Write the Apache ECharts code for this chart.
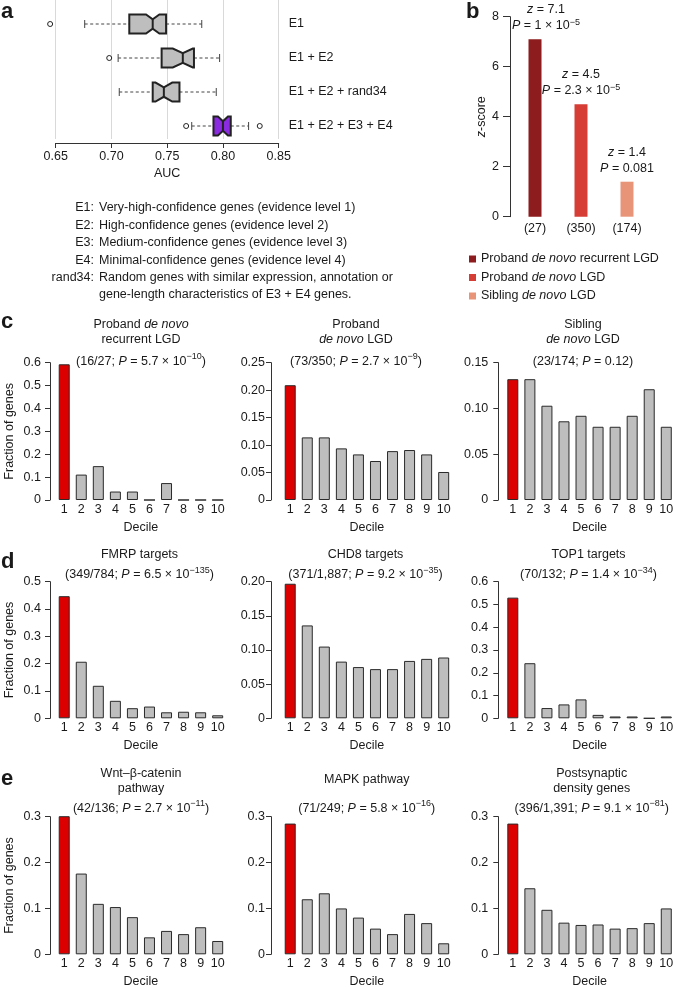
<!DOCTYPE html>
<html><head><meta charset="utf-8">
<script src="https://cdn.jsdelivr.net/npm/echarts@6/dist/echarts.min.js"></script>
<style>html,body{margin:0;padding:0;background:#fff}#c{width:673px;height:987px}</style>
</head><body><div id="c"></div>
<script>
// ================= DATA =================
// Panel a: notched box plots of AUC
const aCats = ['E1', 'E1 + E2', 'E1 + E2 + rand34', 'E1 + E2 + E3 + E4'];
const aLow = [0.676, 0.706, 0.707, 0.772];
const aQ1 = [0.716, 0.745, 0.737, 0.7915];
const aMed = [0.737, 0.764, 0.747, 0.800];
const aQ3 = [0.749, 0.774, 0.761, 0.807];
const aHigh = [0.781, 0.797, 0.794, 0.823];
const aNotch = [0.006, 0.009, 0.0075, 0.0045];
const aOutliers = [[0.645], [0.698], [], [0.767, 0.833]];
const aTicks = ['0.65', '0.70', '0.75', '0.80', '0.85'];
const aKeyLabels = ['E1:', 'E2:', 'E3:', 'E4:', 'rand34:', ''];
const aKeyTexts = [
  'Very-high-confidence genes (evidence level 1)',
  'High-confidence genes (evidence level 2)',
  'Medium-confidence genes (evidence level 3)',
  'Minimal-confidence genes (evidence level 4)',
  'Random genes with similar expression, annotation or',
  'gene-length characteristics of E3 + E4 genes.'
];

// Panel b: z-scores
const bCats = ['(27)', '(350)', '(174)'];
const bSeriesNames = ['Proband de novo recurrent LGD', 'Proband de novo LGD', 'Sibling de novo LGD'];
const bZ = [7.1, 4.5, 1.4];
const bP = ['1 × 10^−5', '2.3 × 10^−5', '0.081'];
const bTicks = ['0', '2', '4', '6', '8'];

// Panels c–e: fraction of genes per decile
const deciles = ['1', '2', '3', '4', '5', '6', '7', '8', '9', '10'];
const c1Vals = [0.593, 0.111, 0.148, 0.037, 0.037, 0, 0.074, 0, 0, 0];
const c2Vals = [0.209, 0.114, 0.114, 0.094, 0.083, 0.071, 0.089, 0.091, 0.083, 0.051];
const c3Vals = [0.132, 0.132, 0.103, 0.086, 0.092, 0.080, 0.080, 0.092, 0.121, 0.080];
const d1Vals = [0.447, 0.207, 0.119, 0.064, 0.037, 0.043, 0.022, 0.024, 0.022, 0.011];
const d2Vals = [0.197, 0.136, 0.105, 0.083, 0.075, 0.072, 0.072, 0.084, 0.087, 0.089];
const d3Vals = [0.530, 0.242, 0.045, 0.061, 0.083, 0.015, 0.008, 0.008, 0, 0.008];
const e1Vals = [0.309, 0.176, 0.110, 0.103, 0.081, 0.037, 0.051, 0.044, 0.059, 0.029];
const e2Vals = [0.285, 0.120, 0.133, 0.100, 0.080, 0.056, 0.044, 0.088, 0.068, 0.024];
const e3Vals = [0.285, 0.144, 0.097, 0.069, 0.064, 0.065, 0.056, 0.057, 0.068, 0.100];

const ticks06 = ['0', '0.1', '0.2', '0.3', '0.4', '0.5', '0.6'];
const ticks05 = ['0', '0.1', '0.2', '0.3', '0.4', '0.5'];
const ticks03 = ['0', '0.1', '0.2', '0.3'];
const ticks025 = ['0', '0.05', '0.10', '0.15', '0.20', '0.25'];
const ticks020 = ['0', '0.05', '0.10', '0.15', '0.20'];
const ticks015 = ['0', '0.05', '0.10', '0.15'];

const c1Title = ['Proband {it|de novo}', 'recurrent LGD'];
const c2Title = ['Proband', '{it|de novo} LGD'];
const c3Title = ['Sibling', '{it|de novo} LGD'];
const d1Title = ['FMRP targets'];
const d2Title = ['CHD8 targets'];
const d3Title = ['TOP1 targets'];
const e1Title = ['Wnt–β-catenin', 'pathway'];
const e2Title = ['MAPK pathway'];
const e3Title = ['Postsynaptic', 'density genes'];

const statCounts = ['16/27', '73/350', '23/174', '349/784', '371/1,887', '70/132', '42/136', '71/249', '396/1,391'];
const statP = ['5.7 × 10^−10', '2.7 × 10^−9', '0.12', '6.5 × 10^−135', '9.2 × 10^−35', '1.4 × 10^−34', '2.7 × 10^−11', '5.8 × 10^−16', '9.1 × 10^−81'];

// ================= STYLE / LAYOUT =================
const FONT = 'Liberation Sans';
const TXT = '#1a1a1a';
const AX = '#333333';
const FS = 12.5;
const RED = '#dc0000';
const GRAY = '#bebebe';
const PURPLE = '#8a2be2';
const bColors = ['#8c1c1e', '#d63d35', '#e89478'];

function sup(s) { return s.replace(/\^(.+)$/, '{sup|$1}'); }

const gRich = {
  it: { fontStyle: 'italic', fontSize: FS, fontFamily: FONT, fill: TXT, lineHeight: 18 },
  sup: { fontSize: 9, fontFamily: FONT, fill: TXT, verticalAlign: 'top', lineHeight: 9 }
};
function gtext(x, y, text, extra) {
  return {
    type: 'text', x: x, y: y, silent: true,
    style: Object.assign({
      text: text, fill: TXT, fontSize: FS, fontFamily: FONT,
      align: 'center', verticalAlign: 'middle', lineHeight: 18, rich: gRich
    }, extra || {})
  };
}

const panels = [
  { vals: c1Vals, max: 0.6, iv: 0.1, ticks: ticks06, title: c1Title },
  { vals: c2Vals, max: 0.25, iv: 0.05, ticks: ticks025, title: c2Title },
  { vals: c3Vals, max: 0.15, iv: 0.05, ticks: ticks015, title: c3Title },
  { vals: d1Vals, max: 0.5, iv: 0.1, ticks: ticks05, title: d1Title },
  { vals: d2Vals, max: 0.2, iv: 0.05, ticks: ticks020, title: d2Title },
  { vals: d3Vals, max: 0.6, iv: 0.1, ticks: ticks06, title: d3Title },
  { vals: e1Vals, max: 0.3, iv: 0.1, ticks: ticks03, title: e1Title },
  { vals: e2Vals, max: 0.3, iv: 0.1, ticks: ticks03, title: e2Title },
  { vals: e3Vals, max: 0.3, iv: 0.1, ticks: ticks03, title: e3Title }
];

const colLeft = [55.7, 281.7, 504.3];
const colOffset = [5.7, 10.7, 6];
const colMargin = [9, 6, 10];
const rowTop = [362.7, 581.7, 816.7];
const rowH = [137.3, 136.6, 137.6];
const titleX = [[141, 356, 583], [139.5, 365.5, 588.5], [141, 366.7, 591.7]];
const statY = [361.5, 575, 808.3];

const grids = [
  { left: 55.7, top: 0, width: 223, height: 139 },
  { left: 512, top: 16.7, width: 138, height: 200 }
];
const xAxes = [];
const yAxes = [];
const series = [];
const graphics = [];

// ---- Panel a ----
xAxes.push({
  gridIndex: 0, type: 'value', min: 0.65, max: 0.85, interval: 0.05, offset: 4,
  axisLine: { show: true, lineStyle: { color: AX, width: 1 } },
  axisTick: { show: true, length: 5, lineStyle: { color: AX } },
  axisLabel: { margin: 7, fontSize: FS, color: TXT, fontFamily: FONT,
    formatter: v => aTicks[Math.round((v - 0.65) / 0.05)] },
  splitLine: { show: true, lineStyle: { color: '#d9d9d9', width: 1 } },
  name: 'AUC', nameLocation: 'middle', nameGap: 24,
  nameTextStyle: { fontSize: FS, color: TXT, fontFamily: FONT }
});
yAxes.push({
  gridIndex: 0, type: 'value', position: 'right', inverse: true, min: 0.294, max: 4.382,
  axisLine: { show: false }, axisTick: { show: false }, splitLine: { show: false },
  axisLabel: { customValues: [1, 2, 3, 4], formatter: v => aCats[v - 1] || '', align: 'left', margin: 10,
    fontSize: FS, color: TXT, fontFamily: FONT }
});
const boxData = aCats.map((c, i) => [i + 1, aLow[i], aQ1[i], aMed[i], aQ3[i], aHigh[i], aNotch[i]]);
series.push({
  type: 'custom', xAxisIndex: 0, yAxisIndex: 0, clip: false, silent: true,
  data: boxData,
  encode: { x: [1, 2, 3, 4, 5], y: 0 },
  renderItem: function (params, api) {
    const row = api.value(0);
    const P = v => api.coord([v, row]);
    const med = api.value(3);
    const y = P(med)[1];
    const xlo = P(api.value(1))[0], xq1 = P(api.value(2))[0], xmed = P(med)[0],
          xq3 = P(api.value(4))[0], xhi = P(api.value(5))[0];
    const nw = api.value(6);
    const xnl = P(med - nw)[0], xnh = P(med + nw)[0];
    const H = 9.5, N = 4.75, S = 4;
    const fill = params.dataIndex === 3 ? PURPLE : GRAY;
    const ln = (x1, y1, x2, y2, extra) => ({ type: 'line', shape: { x1, y1, x2, y2 },
      style: Object.assign({ stroke: '#444', lineWidth: 1 }, extra || {}) });
    return { type: 'group', children: [
      ln(xlo, y, xq1, y, { lineDash: [3, 2.5] }),
      ln(xq3, y, xhi, y, { lineDash: [3, 2.5] }),
      ln(xlo, y - S, xlo, y + S),
      ln(xhi, y - S, xhi, y + S),
      { type: 'polygon', shape: { points: [[xq1, y - H], [xnl, y - H], [xmed, y - N], [xnh, y - H], [xq3, y - H],
          [xq3, y + H], [xnh, y + H], [xmed, y + N], [xnl, y + H], [xq1, y + H]] },
        style: { fill: fill, stroke: '#222', lineWidth: 2, lineJoin: 'miter' } },
      ln(xmed, y - N, xmed, y + N, { stroke: '#222', lineWidth: 2 })
    ] };
  }
});
const outData = [];
aOutliers.forEach((arr, i) => arr.forEach(v => outData.push([v, i + 1])));
series.push({
  type: 'scatter', xAxisIndex: 0, yAxisIndex: 0, clip: false, silent: true,
  symbol: 'circle', symbolSize: 5, data: outData,
  itemStyle: { color: '#fff', borderColor: '#222', borderWidth: 1, opacity: 1 }
});
graphics.push(gtext(1, 12, 'a', { align: 'left', fontSize: 22, fontWeight: 'bold' }));
aKeyLabels.forEach((lab, i) => {
  const y = 208 + i * 17.4;
  if (lab) graphics.push(gtext(94, y, lab, { align: 'right' }));
  graphics.push(gtext(99, y, aKeyTexts[i], { align: 'left' }));
});

// ---- Panel b ----
xAxes.push({
  gridIndex: 1, type: 'category', data: bCats,
  axisLine: { show: false }, axisTick: { show: false }, splitLine: { show: false },
  axisLabel: { margin: 5, fontSize: FS, color: TXT, fontFamily: FONT, interval: 0 }
});
yAxes.push({
  gridIndex: 1, type: 'value', min: 0, max: 8, interval: 2, offset: 2,
  axisLine: { show: true, lineStyle: { color: AX, width: 1 } },
  axisTick: { show: true, length: 7, lineStyle: { color: AX } },
  splitLine: { show: false },
  axisLabel: { margin: 11, fontSize: FS, color: TXT, fontFamily: FONT, formatter: v => bTicks[Math.round(v / 2)] },
  name: '{it|z}-score', nameLocation: 'middle', nameRotate: 90, nameGap: 22,
  nameTextStyle: { fontSize: FS, color: TXT, fontFamily: FONT,
    rich: { it: { fontStyle: 'italic', fontSize: FS, color: TXT, fontFamily: FONT } } }
});
bSeriesNames.forEach((nm, i) => {
  const data = bCats.map((c, j) => (j === i ? bZ[i] : null));
  series.push({
    type: 'bar', name: nm, xAxisIndex: 1, yAxisIndex: 1, barWidth: 13, barGap: '-100%', silent: true,
    data: data, itemStyle: { color: bColors[i] },
    label: {
      show: true, position: 'top', distance: 5.5, offset: [i === 0 ? 11 : 0, 0],
      formatter: '{it|z} = ' + bZ[i] + '\n{it|P} = ' + sup(bP[i]),
      fontSize: FS, color: TXT, fontFamily: FONT, lineHeight: 16, align: 'center',
      rich: {
        it: { fontStyle: 'italic', fontSize: FS, color: TXT, fontFamily: FONT, lineHeight: 16 },
        sup: { fontSize: 9, color: TXT, fontFamily: FONT, verticalAlign: 'top', lineHeight: 9 }
      }
    }
  });
});
graphics.push(gtext(466, 12, 'b', { align: 'left', fontSize: 22, fontWeight: 'bold' }));

// ---- Panels c, d, e ----
panels.forEach((p, k) => {
  const r = Math.floor(k / 3), c = k % 3;
  const gi = grids.length;
  grids.push({ left: colLeft[c], top: rowTop[r], width: 170.5, height: rowH[r] });
  xAxes.push({
    gridIndex: gi, type: 'category', data: deciles,
    axisLine: { show: false }, axisTick: { show: false }, splitLine: { show: false },
    axisLabel: { margin: 3, fontSize: FS, color: TXT, fontFamily: FONT, interval: 0, hideOverlap: false },
    name: 'Decile', nameLocation: 'middle', nameGap: 21,
    nameTextStyle: { fontSize: FS, color: TXT, fontFamily: FONT }
  });
  const ya = {
    gridIndex: gi, type: 'value', min: 0, max: p.max, interval: p.iv, offset: colOffset[c],
    axisLine: { show: true, lineStyle: { color: AX, width: 1 } },
    axisTick: { show: true, length: 5, lineStyle: { color: AX } },
    splitLine: { show: false },
    axisLabel: { margin: colMargin[c], fontSize: FS, color: TXT, fontFamily: FONT,
      showMinLabel: true, showMaxLabel: true, formatter: v => p.ticks[Math.round(v / p.iv)] }
  };
  if (c === 0) {
    Object.assign(ya, { name: 'Fraction of genes', nameLocation: 'middle', nameRotate: 90, nameGap: 34,
      nameTextStyle: { fontSize: FS, color: TXT, fontFamily: FONT } });
  }
  yAxes.push(ya);
  series.push({
    type: 'bar', xAxisIndex: gi, yAxisIndex: gi, barWidth: 11, silent: true,
    data: p.vals,
    itemStyle: { color: prm => (prm.dataIndex === 0 ? RED : GRAY), borderColor: '#2a2a2a', borderWidth: 1 }
  });
  // titles
  const tx = titleX[r][c];
  let ys;
  if (r === 0) ys = [325, 340];
  else if (r === 1) ys = [554.3];
  else ys = p.title.length === 2 ? [773.3, 788.3] : [780];
  p.title.forEach((line, li) => graphics.push(gtext(tx, ys[li], line)));
  graphics.push(gtext(tx, statY[r], '(' + statCounts[k] + '; {it|P} = ' + sup(statP[k]) + ')'));
});
graphics.push(gtext(1, 322, 'c', { align: 'left', fontSize: 22, fontWeight: 'bold' }));
graphics.push(gtext(1, 562, 'd', { align: 'left', fontSize: 22, fontWeight: 'bold' }));
graphics.push(gtext(1, 779, 'e', { align: 'left', fontSize: 22, fontWeight: 'bold' }));

grids.forEach(g => { g.containLabel = false; g.outerBoundsMode = 'none'; });

const chart = echarts.init(document.getElementById('c'), null, { renderer: 'canvas', width: 673, height: 987 });
chart.setOption({
  animation: false,
  backgroundColor: '#ffffff',
  textStyle: { fontFamily: FONT, color: TXT },
  grid: grids,
  xAxis: xAxes,
  yAxis: yAxes,
  legend: {
    orient: 'vertical', left: 464, top: 246.5, itemWidth: 7, itemHeight: 7, itemGap: 3.5,
    icon: 'rect', selectedMode: false, data: bSeriesNames,
    formatter: n => n.replace('de novo', '{it|de novo}'),
    textStyle: { fontSize: FS, color: TXT, fontFamily: FONT, lineHeight: 15,
      rich: { it: { fontStyle: 'italic', fontSize: FS, color: TXT, fontFamily: FONT, lineHeight: 15 } } }
  },
  series: series,
  graphic: { elements: graphics }
});
</script>
</body></html>
